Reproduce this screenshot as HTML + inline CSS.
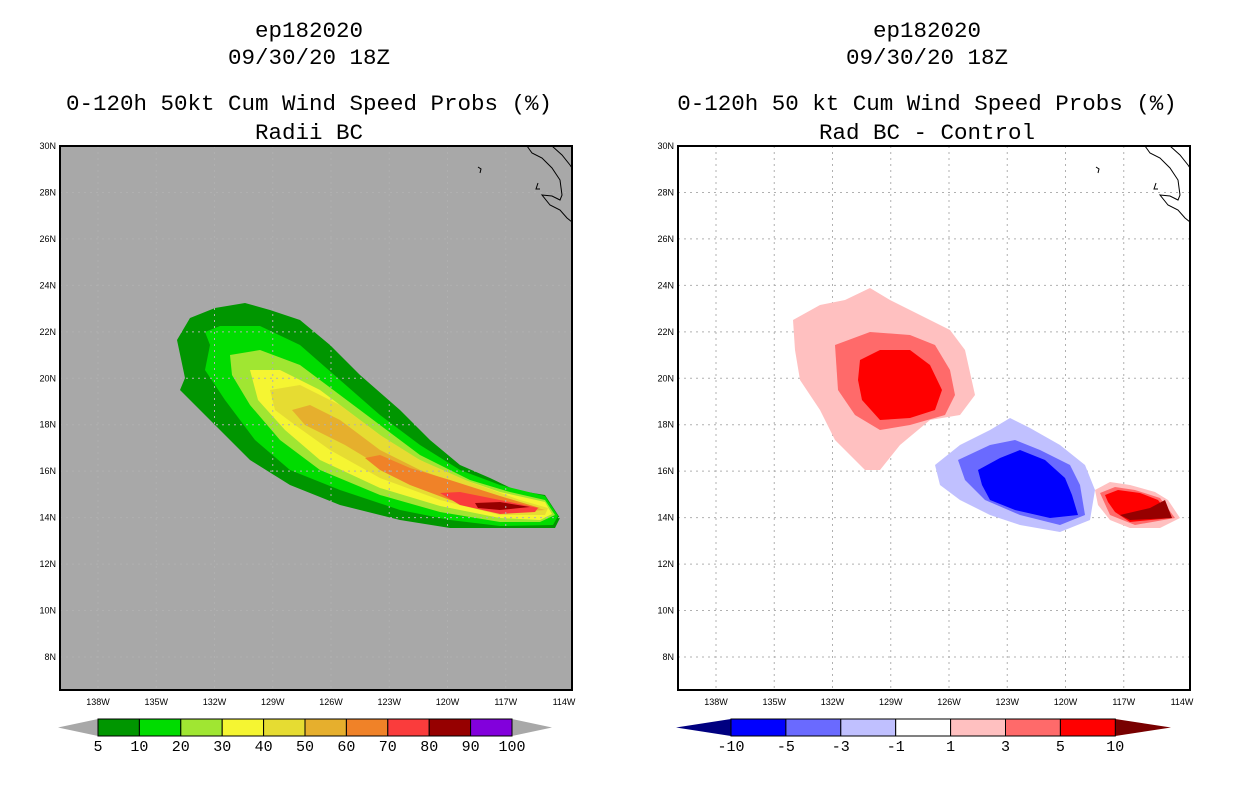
<!DOCTYPE html>
<html><head><meta charset="utf-8"><style>
body{margin:0;background:#fff;width:1236px;height:800px;overflow:hidden}
svg{display:block}
text{font-family:"Liberation Sans",sans-serif}
</style></head><body>
<svg id="s" width="1236" height="800" xmlns="http://www.w3.org/2000/svg"></svg>
<script>
const lonTicks=[138,135,132,129,126,123,120,117,114];
const latTicks=[30,28,26,24,22,20,18,16,14,12,10,8];
const leftLevels=["5","10","20","30","40","50","60","70","80","90","100"];
const leftColors=["#009600","#00dc00","#a0e632","#f5f532","#e6dc32","#e6af2d","#f08228","#fa3c3c","#960000","#8200dc"];
const rightLevels=["-10","-5","-3","-1","1","3","5","10"];
const rightColors=["#0000ff","#6a6aff","#c0c0ff","#ffffff","#ffc0c0","#ff6a6a","#ff0000"];
const leftContours=[
 [0,[[177,340],[190,318],[215,308],[245,303],[270,310],[300,320],[330,345],[360,375],[400,410],[430,440],[460,465],[490,478],[515,490],[545,495],[560,518],[555,528],[500,528],[450,528],[400,520],[340,505],[290,485],[250,460],[210,420],[180,390],[185,378]]],
 [1,[[205,332],[220,326],[260,326],[300,345],[340,380],[380,415],[420,445],[460,470],[500,485],[545,496],[558,516],[553,525],[500,526],[450,520],[400,510],[340,490],[290,470],[255,440],[225,400],[205,370],[210,345]]],
 [2,[[230,355],[260,350],[300,365],[340,395],[380,425],[420,455],[470,480],[510,492],[545,500],[555,515],[540,522],[500,522],[440,512],[380,495],[320,470],[280,440],[250,405],[232,375]]],
 [3,[[250,370],[280,370],[320,390],[360,420],[400,450],[450,475],[500,492],[545,502],[552,514],[540,520],[500,518],[440,506],[380,488],[320,460],[285,430],[258,400]]],
 [4,[[270,390],[300,385],[340,405],[380,435],[420,460],[470,482],[520,500],[548,508],[545,515],[500,515],[440,500],[380,478],[330,450],[295,425],[275,410]]],
 [5,[[292,410],[310,405],[340,420],[380,450],[420,470],[470,488],[520,503],[545,510],[500,513],[440,495],[390,472],[345,445],[305,425]]],
 [6,[[365,458],[380,455],[410,468],[450,480],[500,496],[540,508],[500,510],[450,500],[410,485],[380,470]]],
 [7,[[440,493],[460,492],[500,500],[538,508],[535,512],[500,514],[460,505]]],
 [8,[[475,503],[500,502],[530,507],[500,510],[478,508]]]
];
const rightContours=[
 ["#ffc0c0",[[793,320],[820,305],[845,300],[870,288],[890,300],[920,315],[950,330],[965,350],[975,395],[960,415],[930,420],[900,445],[880,470],[865,470],[835,440],[820,410],[800,380],[795,350]]],
 ["#ff6a6a",[[835,345],[870,332],[910,335],[935,345],[950,370],[955,395],[945,415],[910,425],[880,430],[855,415],[838,390]]],
 ["#ff0000",[[860,360],[880,350],[910,350],[930,365],[942,390],[935,410],[910,418],[880,420],[862,400],[858,380]]],
 ["#c0c0ff",[[935,465],[960,445],[990,430],[1010,418],[1030,428],[1060,445],[1085,465],[1095,490],[1090,520],[1060,532],[1020,525],[990,515],[960,500],[940,485]]],
 ["#6a6aff",[[958,460],[990,445],[1015,440],[1040,450],[1070,465],[1080,485],[1085,515],[1060,525],[1020,515],[985,500],[965,480]]],
 ["#0000ff",[[978,470],[1000,458],[1020,450],[1045,460],[1065,478],[1072,495],[1078,515],[1050,518],[1015,510],[990,500],[982,485]]],
 ["#ffc0c0",[[1095,490],[1110,482],[1130,485],[1155,492],[1168,500],[1180,518],[1160,528],[1130,528],[1110,520],[1098,505]]],
 ["#ff6a6a",[[1100,493],[1115,487],[1135,490],[1160,498],[1175,518],[1135,525],[1110,515]]],
 ["#ff0000",[[1105,495],[1118,490],[1140,493],[1158,500],[1172,518],[1130,522],[1115,512],[1108,502]]],
 ["#960000",[[1120,515],[1150,508],[1165,500],[1172,518],[1130,520]]]
];
const coast1=[[527,146],[532,153],[542,158],[552,168],[560,180],[562,195],[560,200],[552,196],[542,195],[550,205],[560,210],[567,218],[572,222]];
const coast2=[[552,146],[562,155],[570,165],[572,168]];
const S=document.getElementById('s'),NS="http://www.w3.org/2000/svg";
function mk(t,a,p){const e=document.createElementNS(NS,t);for(const k in a)e.setAttribute(k,a[k]);(p||S).appendChild(e);return e;}
function txt(x,y,s,size,anchor,mono){const e=mk('text',{x:x,y:y,'font-size':size,'text-anchor':anchor||'middle',fill:'#000'});if(mono)e.setAttribute('style','font-family:"Liberation Mono",monospace');e.textContent=s;return e;}
function lonX(off,l){return off+98+(138-l)*(466/24);}
function latY(l){return 146+(30-l)*(511/22);}
function pts(a,dx){return a.map(p=>(p[0]+dx)+','+p[1]).join(' ');}
function panel(off,bg,name){
  const g=mk('g',{});
  
  
  const r=mk('rect',{x:60+off,y:146,width:512,height:544,fill:bg},g);
  
  return g;
}
function grid(off,g){
  lonTicks.forEach(l=>{if(l!==114){const x=lonX(off,l);mk('line',{x1:x,y1:146,x2:x,y2:690,stroke:'#b0b0b0','stroke-dasharray':'2,4'},g);}
   const t=txt(lonX(off,l),705,l+'W',9);});
  latTicks.forEach(l=>{const y=latY(l);if(l!==30)mk('line',{x1:60+off,y1:y,x2:572+off,y2:y,stroke:'#b0b0b0','stroke-dasharray':'2,4'},g);
   const t=txt(56+off,y+3,l+'N',9,'end');});
}
function coast(off,g){
  [coast1,coast2].forEach(c=>{const p=mk('polyline',{points:pts(c,off),fill:'none',stroke:'#000','stroke-width':1},g);});
  mk('path',{d:`M${478+off},167 l3,2 l-1,4`,stroke:'#000',fill:'none'},g);
  mk('path',{d:`M${538+off},183 l-2,6 l4,0`,stroke:'#000',fill:'none'},g);
  mk('rect',{x:60+off,y:146,width:512,height:544,fill:'none',stroke:'#000','stroke-width':2},g);
}
const gl=panel(0,'#a8a8a8','left-map-panel');
leftContours.forEach(c=>{const p=mk('polygon',{points:pts(c[1],0),fill:leftColors[c[0]]},gl);});
grid(0,gl);coast(0,gl);
const gr=panel(618,'#ffffff','right-map-panel');
grid(618,gr);
rightContours.forEach(c=>{const p=mk('polygon',{points:pts(c[1],0),fill:c[0]},gr);});
coast(618,gr);
[[309,'left'],[927,'right']].forEach(([cx,side],i)=>{
  const L=i===0?['ep182020','09/30/20 18Z','0-120h 50kt Cum Wind Speed Probs (%)','Radii BC']:['ep182020','09/30/20 18Z','0-120h 50 kt Cum Wind Speed Probs (%)','Rad BC - Control'];
  [37,64,110,139].forEach((y,j)=>{const t=txt(cx,y,L[j],22.5,'middle',true);});
});
(function(){const x0=98,w=41.4,y=719,h=17;
 mk('polygon',{points:`${x0},${y} ${x0},${y+h} 58,${y+h/2}`,fill:'#a8a8a8'});
 mk('polygon',{points:`${x0+10*w},${y} ${x0+10*w},${y+h} 552,${y+h/2}`,fill:'#a8a8a8'});
 leftColors.forEach((c,i)=>{const r=mk('rect',{x:x0+i*w,y:y,width:w,height:h,fill:c,stroke:'#000'});});
 leftLevels.forEach((l,i)=>{const t=txt(x0+i*w,751,l,15,'middle',true);});
})();
(function(){const x0=731,w=54.9,y=719,h=17;
 mk('polygon',{points:`${x0},${y} ${x0},${y+h} 676,${y+h/2}`,fill:'#000080'});
 mk('polygon',{points:`${x0+7*w},${y} ${x0+7*w},${y+h} 1171,${y+h/2}`,fill:'#780000'});
 rightColors.forEach((c,i)=>{const r=mk('rect',{x:x0+i*w,y:y,width:w,height:h,fill:c,stroke:'#000'});});
 rightLevels.forEach((l,i)=>{const t=txt(x0+i*w,751,l,15,'middle',true);});
})();
</script>
</body></html>
